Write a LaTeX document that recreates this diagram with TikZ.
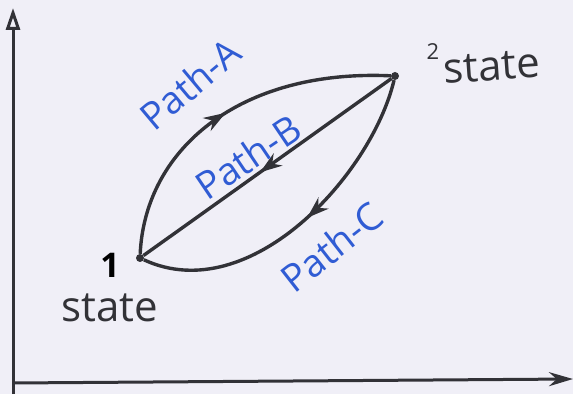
\documentclass[tikz,border=0pt]{standalone}
\usepackage{fontspec}
\setmainfont{Open Sans}
\usetikzlibrary{arrows.meta, positioning, decorations.markings}
\definecolor{paper}{RGB}{240,239,247}
\definecolor{ink}{RGB}{50,50,55}
\definecolor{penBlue}{RGB}{48,92,212}

\begin{document}
\begin{tikzpicture}[
        x=1pt, y=1pt,
        stateDot/.style={
            circle,
            fill=ink,
            inner sep=0pt,
            minimum size=8pt
        },
        axisLine/.style={
            line width=3pt,
            draw=ink
        },
        pathLine/.style={
            line width=3.4pt,
            draw=ink
        },
        midArrow/.style={
            postaction={decorate},
            decoration={markings,
                mark=at position #1 with {\arrow{Stealth[length=22pt, width=15pt]}}}
        },
        pathLabel/.style={
            text=penBlue,
            inner sep=0pt,
            font=\fontsize{38}{40}\selectfont
        },
        stateLabel/.style={
            text=ink,
            inner sep=0pt,
            font=\fontsize{42}{44}\selectfont
        }
    ]

        % Paper
        \useasboundingbox[fill=paper] (0,0) rectangle (573,394);

        % Axes
        \coordinate (ybase) at (13,0);
        \coordinate (origin) at (13,11);
        \coordinate (ytop) at (13,386);
        \coordinate (xend) at (573,15);

        \draw[axisLine, -{Triangle[open, length=22pt, width=14pt, line width=3pt]}]
            (ybase) -- (ytop);
        \draw[axisLine, -{Stealth[length=24pt, width=14pt]}]
            (origin) -- (xend);

        % The two states
        \node[stateDot] (s1) at (140,136) {};
        \node[stateDot] (s2) at (395,318) {};

        % Path A: 1 to 2
        \draw[pathLine, midArrow=0.5]
            (s1) .. controls (145,245) and (240,325) .. (s2);

        % Path B and Path C: 2 back to 1
        \draw[pathLine, midArrow=0.53]
            (s2) -- (s1);
        \draw[pathLine, midArrow=0.48]
            (s2) .. controls (372,220) and (250,85) .. (s1);

        % Path labels
        \node[pathLabel, rotate=40] (labelA) at (190,310) {Path-A};
        \node[pathLabel, rotate=34] (labelB) at (248,237) {Path-B};
        \node[pathLabel, rotate=38] (labelC) at (332,147) {Path-C};

        % State labels
        \node[
            text=black,
            inner sep=0pt,
            font=\fontsize{34}{36}\selectfont\bfseries
        ] (one) at (110,129) {1};
        \node[stateLabel, below=16pt of one] (stateOne) {state};

        \node[
            text=ink,
            inner sep=0pt,
            font=\fontsize{22}{24}\selectfont
        ] (two) at (433,342) {2};
        \node[stateLabel, rotate=4] (stateTwo) at (492,327) {state};

    \end{tikzpicture}
\end{document}
